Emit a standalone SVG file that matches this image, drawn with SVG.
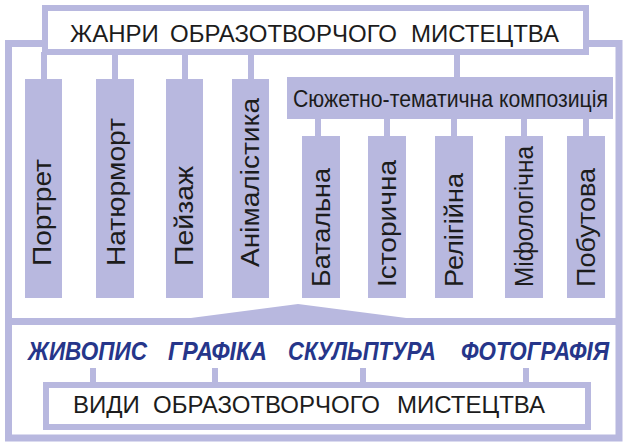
<svg xmlns="http://www.w3.org/2000/svg" width="628" height="444" viewBox="0 0 628 444">
<style>
.lav{fill:#b8b8df}
.box{fill:#fff;stroke:#b8b8df;stroke-width:6}
.ln{stroke:#b8b8df;fill:none;stroke-width:6}
.fr{stroke:#b8b8df;fill:none;stroke-width:7;stroke-linejoin:miter}
.t{font-family:"Liberation Sans",Arial,sans-serif;fill:#1c1c1c}
.h{font-size:24px}
.v{font-size:26px}
.b{font-family:"Liberation Sans",Arial,sans-serif;font-weight:bold;font-style:italic;font-size:25px;fill:#26368a}
</style>
<rect width="628" height="444" fill="#fff"/>
<g id="connectors">
<path class="fr" d="M45,43.5 H8.5 V438 H619 V43.5 H589"/>
<rect class="lav" x="5" y="318" width="617" height="7"/>
<polygon class="lav" points="187,318.5 298,304 410,318.5"/>
<path class="ln" d="M44,52 V80 M115,52 V80 M185,52 V80 M251,52 V80 M457,52 V78"/>
<path class="ln" d="M318,118 V137 M387,118 V137 M454,118 V137 M524,118 V137 M586,118 V137"/>
<path class="ln" d="M93,368 V386 M215,368 V386 M363,368 V386 M526,368 V386"/>
</g>
<g id="title">
<rect class="box" x="45" y="8" width="541" height="44"/>
<text class="t h" y="42"><tspan x="70">ЖАНРИ </tspan><tspan x="170">ОБРАЗОТВОРЧОГО </tspan><tspan x="411">МИСТЕЦТВА</tspan></text>
</g>
<g id="portret">
<rect class="lav" x="25" y="79" width="37" height="219"/>
<text class="t v" transform="translate(51,266) rotate(-90)" textLength="107" lengthAdjust="spacingAndGlyphs">Портрет</text>
</g>
<g id="natiurmort">
<rect class="lav" x="96" y="79" width="38" height="219"/>
<text class="t v" transform="translate(125,266) rotate(-90)" textLength="148" lengthAdjust="spacingAndGlyphs">Натюрморт</text>
</g>
<g id="peizazh">
<rect class="lav" x="166" y="79" width="37" height="219"/>
<text class="t v" transform="translate(193,266) rotate(-90)" textLength="100" lengthAdjust="spacingAndGlyphs">Пейзаж</text>
</g>
<g id="animalistyka">
<rect class="lav" x="232" y="79" width="37" height="219"/>
<text class="t v" transform="translate(259,267) rotate(-90)" textLength="169" lengthAdjust="spacingAndGlyphs">Анімалістика</text>
</g>
<g id="siuzhetno">
<rect class="lav" x="287" y="77" width="326" height="42"/>
<text class="t" font-size="24" transform="translate(293,107) scale(0.885,1)">Сюжетно-тематична композиція</text>
</g>
<g id="batalna">
<rect class="lav" x="302" y="136" width="38" height="162"/>
<text class="t v" transform="translate(330,287) rotate(-90)" textLength="119" lengthAdjust="spacingAndGlyphs">Батальна</text>
</g>
<g id="istorychna">
<rect class="lav" x="368" y="136" width="38" height="162"/>
<text class="t v" transform="translate(396,287) rotate(-90)" textLength="127" lengthAdjust="spacingAndGlyphs">Історична</text>
</g>
<g id="relihiina">
<rect class="lav" x="435" y="136" width="38" height="162"/>
<text class="t v" transform="translate(463,287) rotate(-90)" textLength="114" lengthAdjust="spacingAndGlyphs">Релігійна</text>
</g>
<g id="mifolohichna">
<rect class="lav" x="505" y="136" width="38" height="162"/>
<text class="t v" transform="translate(533,287) rotate(-90)" textLength="141" lengthAdjust="spacingAndGlyphs">Міфологічна</text>
</g>
<g id="pobutova">
<rect class="lav" x="567" y="136" width="38" height="162"/>
<text class="t v" transform="translate(595,287) rotate(-90)" textLength="119" lengthAdjust="spacingAndGlyphs">Побутова</text>
</g>
<g id="zhyvopys"><text class="b" x="28" y="360" textLength="119" lengthAdjust="spacingAndGlyphs">ЖИВОПИС</text></g>
<g id="hrafika"><text class="b" x="168" y="360" textLength="99" lengthAdjust="spacingAndGlyphs">ГРАФІКА</text></g>
<g id="skulptura"><text class="b" x="288" y="360" textLength="148" lengthAdjust="spacingAndGlyphs">СКУЛЬПТУРА</text></g>
<g id="fotohrafiia"><text class="b" x="461" y="360" textLength="148" lengthAdjust="spacingAndGlyphs">ФОТОГРАФІЯ</text></g>
<g id="vydy">
<rect class="box" x="46" y="385" width="542" height="42"/>
<text class="t h" y="413"><tspan x="73">ВИДИ </tspan><tspan x="153">ОБРАЗОТВОРЧОГО </tspan><tspan x="397">МИСТЕЦТВА</tspan></text>
</g>
</svg>
